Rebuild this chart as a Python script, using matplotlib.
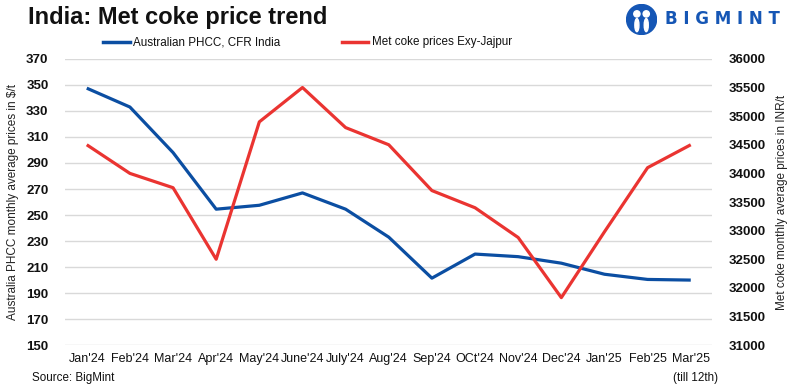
import matplotlib
matplotlib.use("Agg")
import matplotlib.pyplot as plt
from matplotlib.patches import Circle, Ellipse

months = ["Jan'24", "Feb'24", "Mar'24", "Apr'24", "May'24", "June'24", "July'24",
          "Aug'24", "Sep'24", "OCt'24", "Nov'24", "Dec'24", "Jan'25", "Feb'25", "Mar'25"]
phcc_usd = [347.5, 333, 298, 254.5, 257.5, 267, 254.5, 233, 201.5, 220, 218, 213, 204.5, 200.5, 200]
metcoke_inr = [34500, 34000, 33750, 32500, 34900, 35500, 34800, 34500, 33700, 33400, 32880, 31830, 32980, 34100, 34500]

left_ticks = list(range(150, 371, 20))
right_ticks = list(range(31000, 36001, 500))

BLUE = "#0b4ea2"
RED = "#ea3431"

plt.rcParams['font.family'] = ['Liberation Sans', 'DejaVu Sans']

fig = plt.figure(figsize=(7.95, 3.90), dpi=100)
ax = fig.add_axes([0.082, 0.115, 0.814, 0.734])
ax2 = ax.twinx()

x = list(range(len(months)))
ax.plot(x, phcc_usd, color=BLUE, lw=2.3, solid_capstyle='butt', zorder=3)
ax2.plot(x, metcoke_inr, color=RED, lw=2.3, solid_capstyle='butt', zorder=3)

ax.set_xlim(-0.5, len(months) - 0.5)
ax.set_ylim(150, 370)
ax2.set_ylim(31000, 36000)
ax.set_yticks(left_ticks)
ax2.set_yticks(right_ticks)
ax.set_yticklabels([str(v) for v in left_ticks], fontweight='bold', fontsize=9.5)
ax2.set_yticklabels([str(v) for v in right_ticks], fontweight='bold', fontsize=9.5)
ax.set_xticks(x)
ax.set_xticklabels(months, fontsize=9.0)
ax.tick_params(axis='both', length=0, colors='#111111')
ax2.tick_params(axis='both', length=0, colors='#111111')
ax.tick_params(axis='y', pad=12)
ax2.tick_params(axis='y', pad=12)
ax.tick_params(axis='x', pad=6)

ax.grid(axis='y', color='#d9d9d9', lw=1)
ax.set_axisbelow(True)
for a in (ax, ax2):
    for s in a.spines.values():
        s.set_visible(False)

ax.set_ylabel("Australia PHCC monthly average prices in $/t", fontsize=8.5, color='#222222', labelpad=5)
ax2.set_ylabel("Met coke monthly average prices in INR/t", fontsize=8.5, color='#222222', labelpad=7)

fig.text(0.035, 0.955, "India: Met coke price trend", fontsize=17, fontweight='bold',
         va='center', ha='left', color='#111111')

# legend
fig.add_artist(plt.Line2D([0.130, 0.164], [0.892, 0.892], color=BLUE, lw=2.5))
fig.text(0.167, 0.892, "Australian PHCC, CFR India", fontsize=8.4, va='center', ha='left', color='#111111')
fig.add_artist(plt.Line2D([0.430, 0.463], [0.892, 0.892], color=RED, lw=2.5))
fig.text(0.468, 0.892, "Met coke prices Exy-Jajpur", fontsize=8.4, va='center', ha='left', color='#111111')

fig.text(0.040, 0.030, "Source: BigMint", fontsize=8.4, va='center', ha='left', color='#111111')
fig.text(0.903, 0.030, "(till 12th)", fontsize=8.4, va='center', ha='right', color='#111111')

# logo
LOGO = "#1556b5"
fig.text(0.836, 0.950, "B I G M I N T", fontsize=12, fontweight='bold', color=LOGO,
         va='center', ha='left', family=['DejaVu Sans'])
lax = fig.add_axes([0.787, 0.91, 0.04, 0.08])
lax.set_xlim(0, 1); lax.set_ylim(0, 1); lax.set_aspect('equal', adjustable='datalim')
lax.axis('off')
lax.add_patch(Circle((0.5, 0.5), 0.48, color=LOGO))
lax.add_patch(Circle((0.35, 0.68), 0.1, color='white'))
lax.add_patch(Circle((0.65, 0.68), 0.1, color='white'))
lax.add_patch(Ellipse((0.35, 0.32), 0.13, 0.42, color='white'))
lax.add_patch(Ellipse((0.65, 0.32), 0.13, 0.42, color='white'))

fig.savefig("out.png", dpi=100)
